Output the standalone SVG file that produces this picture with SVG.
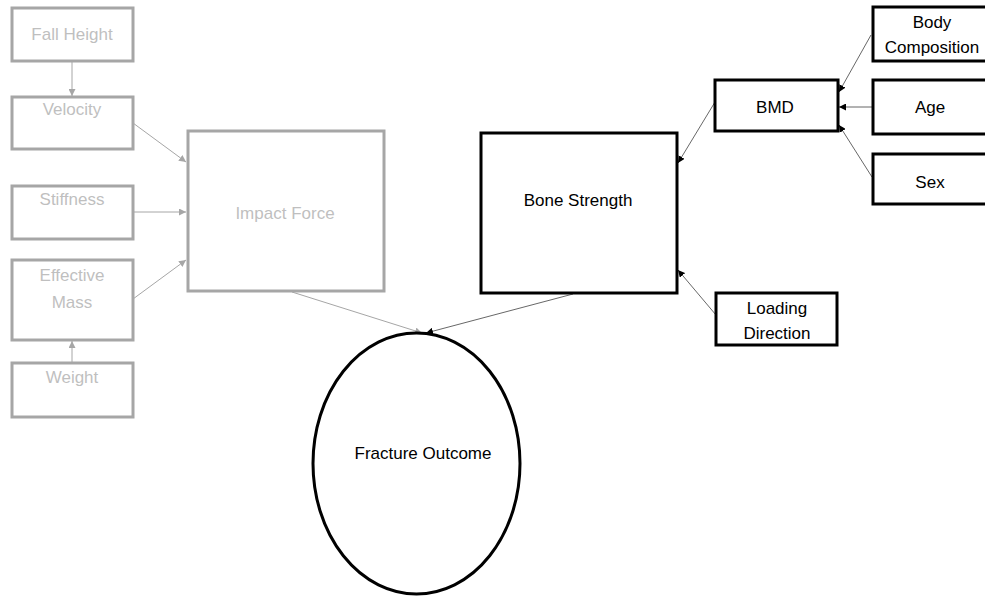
<svg xmlns="http://www.w3.org/2000/svg" width="985" height="596" viewBox="0 0 985 596">
  <style>
    text { font-family: "Liberation Sans", Arial, sans-serif; font-size: 17px; text-anchor: middle; }
    .g rect { fill: #fff; stroke: #a6a6a6; stroke-width: 3; }
    .g text { fill: #bfbfbf; }
    .k rect, .k ellipse { fill: #fff; stroke: #000; stroke-width: 3; }
    .k text { fill: #000; }
    .cg { stroke: #a6a6a6; stroke-width: 1; fill: none; marker-end: url(#ag); }
    .ck { stroke: #404040; stroke-width: 0.8; fill: none; marker-end: url(#ak); }
  </style>
  <defs>
    <marker id="ag" viewBox="0 0 10 10" refX="10" refY="5" markerWidth="7" markerHeight="7" markerUnits="userSpaceOnUse" orient="auto">
      <path d="M0,0 L10,5 L0,10 Z" fill="#a6a6a6"/>
    </marker>
    <marker id="ak" viewBox="0 0 10 10" refX="10" refY="5" markerWidth="7" markerHeight="7" markerUnits="userSpaceOnUse" orient="auto">
      <path d="M0,0 L10,5 L0,10 Z" fill="#000"/>
    </marker>
  </defs>

  <!-- connectors -->
  <g id="connectors">
    <line class="cg" x1="72" y1="61" x2="72" y2="96"/>
    <line class="cg" x1="72" y1="363" x2="72" y2="341"/>
    <line class="cg" x1="133" y1="123" x2="186" y2="162"/>
    <line class="cg" x1="133" y1="212" x2="186" y2="212"/>
    <line class="cg" x1="133" y1="299" x2="186" y2="260"/>
    <line class="cg" x1="292" y1="292" x2="422" y2="333"/>
    <line class="ck" x1="573" y1="294" x2="426" y2="333"/>
    <line class="ck" x1="715" y1="102" x2="678" y2="163"/>
    <line class="ck" x1="716" y1="315" x2="678" y2="270"/>
    <line class="ck" x1="871" y1="35" x2="839" y2="92"/>
    <line class="ck" x1="872" y1="107" x2="839" y2="107"/>
    <line class="ck" x1="872" y1="177" x2="839" y2="125"/>
  </g>

  <!-- impact side -->
  <g id="fall-height" class="g">
    <rect x="12" y="8" width="121" height="53"/>
    <text x="72" y="40">Fall Height</text>
  </g>
  <g id="velocity" class="g">
    <rect x="12" y="97" width="121" height="52"/>
    <text x="72" y="115">Velocity</text>
  </g>
  <g id="stiffness" class="g">
    <rect x="12" y="186" width="121" height="53"/>
    <text x="72" y="205">Stiffness</text>
  </g>
  <g id="effective-mass" class="g">
    <rect x="12" y="260" width="121" height="80"/>
    <text x="72" y="281">Effective</text>
    <text x="72" y="308">Mass</text>
  </g>
  <g id="weight" class="g">
    <rect x="12" y="363" width="121" height="54"/>
    <text x="72" y="383">Weight</text>
  </g>
  <g id="impact-force" class="g">
    <rect x="188" y="131" width="196" height="160"/>
    <text x="285" y="219">Impact Force</text>
  </g>

  <!-- strength side -->
  <g id="bone-strength" class="k">
    <rect x="481" y="133" width="196" height="160"/>
    <text x="578" y="206">Bone Strength</text>
  </g>
  <g id="bmd" class="k">
    <rect x="715" y="80" width="123" height="51"/>
    <text x="775" y="113">BMD</text>
  </g>
  <g id="body-composition" class="k">
    <rect x="873" y="7" width="118" height="54"/>
    <text x="932" y="28">Body</text>
    <text x="932" y="53">Composition</text>
  </g>
  <g id="age" class="k">
    <rect x="873" y="80" width="118" height="54"/>
    <text x="930" y="113">Age</text>
  </g>
  <g id="sex" class="k">
    <rect x="873" y="154" width="118" height="50"/>
    <text x="930" y="188">Sex</text>
  </g>
  <g id="loading-direction" class="k">
    <rect x="716" y="293" width="121" height="52"/>
    <text x="777" y="314">Loading</text>
    <text x="777" y="339">Direction</text>
  </g>

  <!-- outcome -->
  <g id="fracture-outcome" class="k">
    <ellipse cx="416.5" cy="463.5" rx="103.5" ry="130.5"/>
    <text x="423" y="459">Fracture Outcome</text>
  </g>
</svg>
